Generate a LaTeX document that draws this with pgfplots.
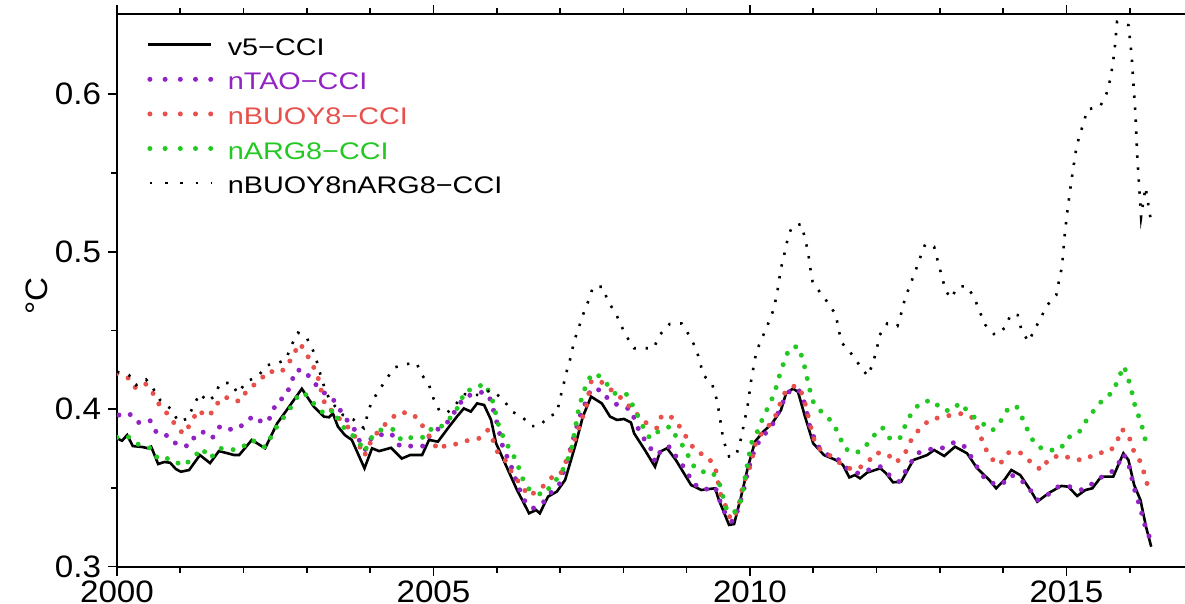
\documentclass[border=0pt]{standalone}
\usepackage{fontspec}
\setmainfont{Liberation Sans}
\newfontfamily\legfont[FakeStretch=1.2]{Liberation Sans}
\newfontfamily\tickfont[FakeStretch=1.07]{Liberation Sans}
\usepackage{pgfplots}
\pgfplotsset{compat=1.18}
\usepackage{pgfplotstable}
\definecolor{cpurple}{RGB}{145,35,195}
\definecolor{cred}{RGB}{232,80,75}
\definecolor{cgreen}{RGB}{35,200,35}

\pgfplotstableread{
x y
2000.00 0.3815
2000.08 0.3800
2000.16 0.3836
2000.25 0.3766
2000.40 0.3760
2000.49 0.3752
2000.54 0.3762
2000.65 0.3652
2000.75 0.3665
2000.84 0.3660
2000.93 0.3620
2001.01 0.3603
2001.14 0.3614
2001.31 0.3709
2001.40 0.3680
2001.47 0.3658
2001.61 0.3734
2001.75 0.3720
2001.85 0.3709
2001.93 0.3709
2002.13 0.3805
2002.34 0.3752
2002.53 0.3910
2002.72 0.4016
2002.92 0.4130
2003.11 0.4016
2003.27 0.3953
2003.35 0.3949
2003.41 0.3974
2003.49 0.3890
2003.60 0.3836
2003.71 0.3805
2003.91 0.3625
2004.03 0.3752
2004.14 0.3734
2004.33 0.3755
2004.50 0.3687
2004.63 0.3709
2004.82 0.3709
2004.93 0.3805
2005.07 0.3794
2005.23 0.3880
2005.37 0.3953
2005.48 0.4005
2005.59 0.3985
2005.69 0.4037
2005.80 0.4027
2005.91 0.3932
2005.99 0.3783
2006.19 0.3603
2006.32 0.3487
2006.43 0.3402
2006.51 0.3339
2006.62 0.3360
2006.68 0.3339
2006.81 0.3445
2006.95 0.3477
2007.08 0.3551
2007.25 0.3783
2007.36 0.3953
2007.49 0.4080
2007.66 0.4037
2007.79 0.3953
2007.90 0.3932
2008.01 0.3938
2008.12 0.3916
2008.17 0.3847
2008.34 0.3741
2008.50 0.3635
2008.58 0.3730
2008.69 0.3752
2008.83 0.3677
2009.07 0.3519
2009.23 0.3487
2009.45 0.3498
2009.51 0.3423
2009.67 0.3265
2009.75 0.3271
2009.86 0.3445
2009.97 0.3635
2010.08 0.3794
2010.21 0.3857
2010.35 0.3910
2010.49 0.3994
2010.57 0.4100
2010.68 0.4131
2010.76 0.4110
2010.87 0.3953
2011.00 0.3783
2011.17 0.3709
2011.36 0.3677
2011.47 0.3646
2011.57 0.3567
2011.66 0.3582
2011.74 0.3561
2011.85 0.3597
2012.06 0.3625
2012.15 0.3593
2012.26 0.3536
2012.39 0.3540
2012.58 0.3677
2012.80 0.3709
2012.91 0.3741
2013.07 0.3703
2013.24 0.3762
2013.43 0.3720
2013.59 0.3625
2013.78 0.3551
2013.89 0.3498
2014.02 0.3551
2014.13 0.3614
2014.27 0.3582
2014.43 0.3487
2014.54 0.3413
2014.73 0.3470
2014.92 0.3513
2015.03 0.3508
2015.17 0.3449
2015.30 0.3487
2015.41 0.3498
2015.55 0.3572
2015.74 0.3572
2015.90 0.3720
2015.98 0.3677
2016.07 0.3519
2016.17 0.3423
2016.26 0.3250
2016.34 0.3127
}\vfive

\pgfplotstableread{
x y
2000.03 0.3963
2000.19 0.3974
2000.33 0.3915
2000.52 0.3930
2000.63 0.3847
2000.82 0.3830
2000.95 0.3773
2001.14 0.3766
2001.25 0.3843
2001.39 0.3857
2001.51 0.3820
2001.63 0.3893
2001.83 0.3868
2001.99 0.3900
2002.15 0.3957
2002.32 0.3910
2002.44 0.3953
2002.51 0.4041
2002.67 0.4084
2002.75 0.4168
2002.83 0.4249
2002.97 0.4245
2003.10 0.4168
2003.19 0.4143
2003.27 0.4105
2003.38 0.4076
2003.46 0.4041
2003.60 0.3943
2003.72 0.3900
2003.81 0.3815
2003.92 0.3741
2004.03 0.3826
2004.14 0.3836
2004.33 0.3847
2004.47 0.3766
2004.69 0.3766
2004.85 0.3766
2004.96 0.3847
2005.10 0.3880
2005.26 0.3930
2005.37 0.4011
2005.50 0.4080
2005.64 0.4096
2005.80 0.4111
2005.89 0.4069
2005.94 0.4005
2006.02 0.3890
2006.10 0.3752
2006.21 0.3658
2006.32 0.3530
2006.43 0.3423
2006.57 0.3370
2006.73 0.3406
2006.87 0.3477
2007.00 0.3530
2007.11 0.3677
2007.19 0.3783
2007.30 0.3943
2007.41 0.4048
2007.49 0.4130
2007.66 0.4120
2007.77 0.4058
2007.96 0.4016
2008.12 0.4000
2008.20 0.3910
2008.28 0.3836
2008.42 0.3766
2008.50 0.3667
2008.61 0.3752
2008.74 0.3762
2008.85 0.3688
2008.99 0.3614
2009.10 0.3530
2009.26 0.3487
2009.45 0.3508
2009.53 0.3413
2009.62 0.3328
2009.72 0.3286
2009.81 0.3360
2009.89 0.3466
2009.97 0.3614
2010.08 0.3752
2010.19 0.3826
2010.30 0.3868
2010.40 0.3932
2010.51 0.4037
2010.62 0.4111
2010.76 0.4130
2010.84 0.4069
2010.89 0.3995
2010.95 0.3880
2011.06 0.3773
2011.17 0.3720
2011.38 0.3688
2011.49 0.3635
2011.63 0.3603
2011.74 0.3590
2011.87 0.3614
2012.06 0.3635
2012.20 0.3582
2012.36 0.3540
2012.50 0.3635
2012.64 0.3720
2012.83 0.3745
2013.02 0.3750
2013.21 0.3787
2013.37 0.3773
2013.53 0.3677
2013.64 0.3593
2013.78 0.3535
2013.97 0.3519
2014.13 0.3582
2014.27 0.3556
2014.41 0.3498
2014.54 0.3423
2014.70 0.3455
2014.87 0.3508
2015.09 0.3508
2015.25 0.3487
2015.44 0.3535
2015.60 0.3582
2015.77 0.3614
2015.90 0.3716
2015.98 0.3657
2016.07 0.3498
2016.17 0.3370
2016.23 0.3275
2016.31 0.3190
}\ntao

\pgfplotstableread{
x y
2000.00 0.4228
2000.19 0.4196
2000.30 0.4132
2000.46 0.4160
2000.57 0.4100
2000.68 0.4020
2000.84 0.3953
2000.95 0.3880
2001.06 0.3843
2001.17 0.3915
2001.28 0.3995
2001.42 0.3953
2001.53 0.3990
2001.63 0.4069
2001.80 0.4076
2001.93 0.4048
2002.07 0.4126
2002.23 0.4174
2002.40 0.4245
2002.53 0.4228
2002.67 0.4259
2002.78 0.4344
2002.89 0.4418
2002.99 0.4355
2003.10 0.4274
2003.19 0.4185
2003.24 0.4096
2003.30 0.4011
2003.43 0.3985
2003.57 0.3910
2003.71 0.3868
2003.81 0.3783
2003.91 0.3703
2003.98 0.3773
2004.14 0.3868
2004.28 0.3920
2004.44 0.3978
2004.63 0.3978
2004.77 0.3936
2004.88 0.3857
2004.96 0.3815
2005.07 0.3741
2005.20 0.3773
2005.37 0.3779
2005.53 0.3800
2005.72 0.3815
2005.86 0.3868
2005.94 0.3805
2006.02 0.3720
2006.13 0.3678
2006.24 0.3597
2006.38 0.3519
2006.51 0.3449
2006.62 0.3477
2006.76 0.3519
2006.89 0.3576
2007.00 0.3582
2007.08 0.3656
2007.17 0.3741
2007.25 0.3826
2007.33 0.3920
2007.41 0.4011
2007.49 0.4174
2007.60 0.4189
2007.74 0.4147
2007.87 0.4100
2008.01 0.4058
2008.12 0.4005
2008.23 0.3963
2008.37 0.3910
2008.53 0.3880
2008.61 0.3963
2008.77 0.3948
2008.91 0.3880
2009.02 0.3805
2009.15 0.3730
2009.32 0.3703
2009.45 0.3635
2009.53 0.3466
2009.62 0.3381
2009.70 0.3296
2009.81 0.3360
2009.89 0.3519
2010.00 0.3635
2010.11 0.3815
2010.27 0.3880
2010.40 0.3953
2010.49 0.4048
2010.57 0.4120
2010.73 0.4153
2010.84 0.4089
2010.89 0.4005
2010.98 0.3857
2011.03 0.3783
2011.14 0.3730
2011.30 0.3699
2011.49 0.3635
2011.66 0.3614
2011.85 0.3656
2011.98 0.3724
2012.17 0.3716
2012.31 0.3661
2012.45 0.3720
2012.56 0.3815
2012.69 0.3880
2012.85 0.3936
2013.02 0.3948
2013.18 0.3963
2013.37 0.3974
2013.53 0.3943
2013.62 0.3857
2013.70 0.3766
2013.81 0.3688
2013.94 0.3646
2014.08 0.3724
2014.27 0.3724
2014.43 0.3667
2014.60 0.3614
2014.73 0.3688
2014.92 0.3709
2015.11 0.3682
2015.28 0.3677
2015.47 0.3720
2015.68 0.3730
2015.79 0.3783
2015.87 0.3874
2015.98 0.3843
2016.04 0.3752
2016.15 0.3682
2016.23 0.3593
2016.30 0.3490
}\nbuoy

\pgfplotstableread{
x y
2000.00 0.3821
2000.16 0.3830
2000.35 0.3773
2000.54 0.3752
2000.65 0.3682
2000.84 0.3688
2001.04 0.3640
2001.20 0.3688
2001.34 0.3752
2001.47 0.3688
2001.63 0.3752
2001.80 0.3741
2001.96 0.3752
2002.13 0.3805
2002.34 0.3758
2002.53 0.3893
2002.72 0.3995
2002.89 0.4105
2003.00 0.4090
2003.16 0.4011
2003.30 0.3963
2003.43 0.3999
2003.51 0.3910
2003.66 0.3857
2003.81 0.3800
2003.91 0.3730
2004.03 0.3826
2004.17 0.3868
2004.36 0.3872
2004.50 0.3800
2004.69 0.3826
2004.85 0.3821
2005.00 0.3890
2005.15 0.3893
2005.29 0.3957
2005.40 0.4020
2005.50 0.4118
2005.64 0.4126
2005.80 0.4164
2005.91 0.4090
2005.97 0.3995
2006.02 0.3910
2006.10 0.3826
2006.21 0.3741
2006.32 0.3667
2006.38 0.3582
2006.49 0.3498
2006.59 0.3477
2006.73 0.3455
2006.87 0.3519
2007.00 0.3582
2007.11 0.3667
2007.19 0.3762
2007.30 0.4016
2007.41 0.4153
2007.49 0.4217
2007.57 0.4228
2007.71 0.4174
2007.87 0.4100
2008.04 0.4100
2008.12 0.4048
2008.17 0.4005
2008.31 0.3890
2008.42 0.3815
2008.58 0.3868
2008.74 0.3890
2008.85 0.3815
2008.99 0.3741
2009.07 0.3656
2009.21 0.3603
2009.40 0.3603
2009.51 0.3540
2009.56 0.3466
2009.64 0.3350
2009.75 0.3343
2009.86 0.3423
2009.94 0.3603
2010.02 0.3783
2010.13 0.3868
2010.21 0.3953
2010.32 0.4037
2010.40 0.4120
2010.46 0.4206
2010.54 0.4301
2010.62 0.4386
2010.76 0.4400
2010.84 0.4312
2010.89 0.4223
2010.94 0.4132
2011.00 0.4048
2011.14 0.3978
2011.30 0.3920
2011.41 0.3836
2011.49 0.3752
2011.66 0.3720
2011.79 0.3745
2011.93 0.3821
2012.09 0.3885
2012.21 0.3815
2012.36 0.3808
2012.45 0.3893
2012.55 0.3974
2012.69 0.4041
2012.88 0.4058
2013.04 0.3995
2013.18 0.3990
2013.32 0.4041
2013.48 0.3969
2013.64 0.3920
2013.83 0.3864
2013.97 0.3930
2014.08 0.4005
2014.21 0.4020
2014.32 0.3930
2014.41 0.3847
2014.51 0.3773
2014.68 0.3737
2014.90 0.3745
2015.03 0.3821
2015.19 0.3847
2015.30 0.3920
2015.44 0.3995
2015.58 0.4063
2015.74 0.4111
2015.82 0.4196
2015.91 0.4274
2015.98 0.4190
2016.04 0.4100
2016.09 0.4011
2016.17 0.3926
2016.23 0.3836
2016.28 0.3741
}\narg

\pgfplotstableread{
x y
2000.00 0.4238
2000.19 0.4217
2000.30 0.4153
2000.46 0.4189
2000.57 0.4132
2000.68 0.4058
2000.86 0.3999
2000.97 0.3920
2001.12 0.3941
2001.20 0.4016
2001.31 0.4100
2001.43 0.4048
2001.53 0.4080
2001.63 0.4164
2001.80 0.4168
2001.91 0.4100
2002.04 0.4174
2002.23 0.4210
2002.37 0.4280
2002.53 0.4291
2002.67 0.4316
2002.75 0.4401
2002.86 0.4486
2002.99 0.4460
2003.10 0.4371
2003.17 0.4287
2003.23 0.4196
2003.30 0.4111
2003.38 0.4048
2003.57 0.3963
2003.73 0.3936
2003.90 0.3880
2003.95 0.3953
2004.02 0.4048
2004.14 0.4118
2004.25 0.4189
2004.39 0.4266
2004.58 0.4287
2004.73 0.4295
2004.82 0.4217
2004.93 0.4153
2005.00 0.4069
2005.10 0.3985
2005.22 0.3978
2005.34 0.4027
2005.50 0.4096
2005.72 0.4090
2005.91 0.4122
2006.10 0.4063
2006.24 0.3985
2006.40 0.3953
2006.54 0.3893
2006.68 0.3893
2006.81 0.3953
2006.95 0.3974
2007.00 0.4069
2007.06 0.4164
2007.11 0.4249
2007.17 0.4333
2007.22 0.4429
2007.30 0.4524
2007.38 0.4620
2007.46 0.4700
2007.52 0.4778
2007.67 0.4778
2007.76 0.4683
2007.88 0.4609
2007.97 0.4528
2008.06 0.4456
2008.17 0.4387
2008.33 0.4387
2008.48 0.4387
2008.57 0.4470
2008.73 0.4541
2008.92 0.4545
2009.04 0.4470
2009.15 0.4383
2009.21 0.4302
2009.26 0.4217
2009.40 0.4164
2009.47 0.4069
2009.51 0.3985
2009.58 0.3805
2009.67 0.3700
2009.78 0.3703
2009.86 0.3815
2009.97 0.4037
2010.02 0.4185
2010.10 0.4365
2010.19 0.4450
2010.28 0.4535
2010.36 0.4619
2010.42 0.4714
2010.49 0.4895
2010.54 0.4979
2010.59 0.5070
2010.66 0.5159
2010.81 0.5176
2010.87 0.5085
2010.92 0.4994
2010.95 0.4905
2010.99 0.4810
2011.10 0.4746
2011.24 0.4672
2011.36 0.4598
2011.40 0.4503
2011.46 0.4418
2011.62 0.4344
2011.74 0.4274
2011.86 0.4211
2011.94 0.4287
2012.00 0.4376
2012.05 0.4471
2012.17 0.4545
2012.33 0.4528
2012.39 0.4609
2012.45 0.4704
2012.53 0.4789
2012.61 0.4873
2012.69 0.4964
2012.77 0.5049
2012.91 0.5032
2012.97 0.4937
2013.03 0.4846
2013.09 0.4757
2013.17 0.4704
2013.29 0.4778
2013.43 0.4782
2013.55 0.4704
2013.63 0.4619
2013.72 0.4535
2013.87 0.4471
2014.04 0.4520
2014.12 0.4604
2014.23 0.4598
2014.29 0.4503
2014.40 0.4429
2014.48 0.4492
2014.59 0.4577
2014.70 0.4662
2014.84 0.4725
2014.88 0.4810
2014.93 0.4905
2014.97 0.5095
2015.02 0.5276
2015.08 0.5455
2015.15 0.5641
2015.20 0.5730
2015.27 0.5815
2015.33 0.5904
2015.53 0.5921
2015.63 0.6001
2015.69 0.6090
2015.73 0.6186
2015.76 0.6276
2015.80 0.6460
2015.98 0.6439
2016.03 0.6249
2016.06 0.6058
2016.09 0.5879
2016.12 0.5603
2016.15 0.5413
2016.18 0.5220
2016.25 0.5410
2016.33 0.5210
}\nboth

\pgfplotsset{
  legline/.style={legend image code/.code={\draw[##1] (0pt,0.8pt) -- (31.5pt,0.8pt);}},
  legdot/.style={legend image code/.code={\draw[##1, dash pattern=on 0pt off 7.6pt] (0.8pt,0.8pt) -- (31.5pt,0.8pt);}},
  legsmall/.style={legend image code/.code={\draw[##1, dash pattern=on 1.2pt off 6.4pt] (0.8pt,0.8pt) -- (31.5pt,0.8pt);}},
}

\begin{document}
\begin{tikzpicture}
\begin{axis}[
  at={(0,0)}, anchor=south west,
  scale only axis, width=538pt, height=276.35pt,
  xmin=2000, xmax=2017, ymin=0.3, ymax=0.651,
  xtick={2000,2005,2010,2015}, xticklabels={2000,2005,2010,2015},
  minor xtick={2001,2002,2003,2004,2006,2007,2008,2009,2011,2012,2013,2014,2016},
  ytick={0.3,0.4,0.5,0.6}, yticklabels={0.3,0.4,0.5,0.6},
  minor ytick={0.35,0.45,0.55},
  xtick pos=both, ytick pos=left,
  tick align=outside,
  major tick length=4.5pt, minor tick length=3pt,
  every tick/.style={black, line width=0.8pt},
  axis line style={line width=0.9pt},
  tick label style={font=\fontsize{15.5}{18}\tickfont},
  xticklabel style={inner sep=0pt, text depth=0pt, yshift=-2.6pt},
  every axis y label/.style={at={(axis description cs:-0.0743,0.49)}, rotate=90, anchor=center, font=\fontsize{15.5}{18}\tickfont},
  ylabel={°C},
  legend cell align=left,
  legend style={at={(axis description cs:0.0279,0.9578)}, anchor=north west, draw=none, fill=none,
    inner sep=0pt, outer sep=0pt, row sep=8.3pt, column sep=7pt,
    font={\fontsize{12}{14}\legfont},
    nodes={inner sep=0pt, text height=9pt, text depth=0pt}},
]
\addplot[black, line width=1.3pt, legline] table {\vfive};
\addlegendentry{v5−CCI}
\addplot[cpurple, line width=2.5pt, line cap=round, dash pattern=on 0pt off 6pt, legdot] table {\ntao};
\addlegendentry{\textcolor{cpurple}{nTAO−CCI}}
\addplot[cred, line width=2.5pt, line cap=round, dash pattern=on 0pt off 6pt, legdot] table {\nbuoy};
\addlegendentry{\textcolor{cred}{nBUOY8−CCI}}
\addplot[cgreen, line width=2.5pt, line cap=round, dash pattern=on 0pt off 6pt, legdot] table {\narg};
\addlegendentry{\textcolor{cgreen}{nARG8−CCI}}
\addplot[black, line width=1.3pt, line cap=butt, dash pattern=on 1.2pt off 4.8pt, legsmall] table {\nboth};
\addlegendentry{nBUOY8nARG8−CCI}
\end{axis}
\pgfresetboundingbox
\useasboundingbox (-58.5pt,-18.65pt) rectangle (534pt,283.35pt);
\end{tikzpicture}
\end{document}
